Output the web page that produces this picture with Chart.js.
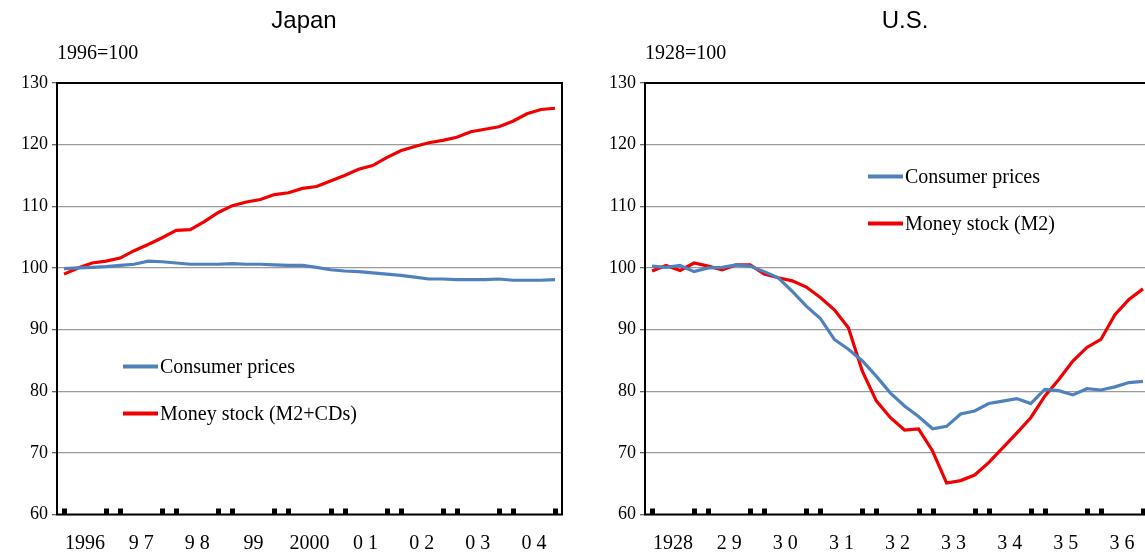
<!DOCTYPE html>
<html>
<head>
<meta charset="utf-8">
<script src="https://cdn.jsdelivr.net/npm/chart.js@4.4.0/dist/chart.umd.min.js"></script>
<style>
    html, body { margin: 0; padding: 0; background: #fff; overflow: hidden; }
    body { width: 1145px; height: 553px; position: relative; }
    canvas { position: absolute; top: 0; }
    #jpChart { left: 0; }
    #usChart { left: 580px; }
</style>
</head>
<body>
<canvas id="jpChart" width="575" height="553"></canvas>
<canvas id="usChart" width="585" height="553"></canvas>
<script>
// quarterly index values
const jpYears = ['1996', '9 7', '9 8', '99', '2000', '0 1', '0 2', '0 3', '0 4'];
const jpCpi = [99.9, 100.0, 100.1, 100.2, 100.4, 100.6, 101.1, 101.0, 100.8, 100.6, 100.6, 100.6,
    100.7, 100.6, 100.6, 100.5, 100.4, 100.4, 100.1, 99.7, 99.5, 99.4, 99.2, 99.0,
    98.8, 98.5, 98.2, 98.2, 98.1, 98.1, 98.1, 98.2, 98.0, 98.0, 98.0, 98.1];
const jpMoney = [99.0, 100.0, 100.8, 101.1, 101.6, 102.8, 103.8, 104.9, 106.1, 106.2, 107.5, 109.0,
    110.1, 110.7, 111.1, 111.9, 112.2, 112.9, 113.2, 114.1, 115.0, 116.0, 116.6, 117.9,
    119.0, 119.7, 120.3, 120.7, 121.2, 122.1, 122.5, 122.9, 123.8, 125.0, 125.7, 125.9];

const usYears = ['1928', '2 9', '3 0', '3 1', '3 2', '3 3', '3 4', '3 5', '3 6'];
const usCpi = [100.3, 100.1, 100.4, 99.4, 100.0, 100.1, 100.5, 100.3, 99.4, 98.4, 96.2, 93.8,
    91.8, 88.4, 86.8, 84.9, 82.4, 79.7, 77.6, 75.9, 73.9, 74.3, 76.3, 76.8,
    78.0, 78.4, 78.8, 78.0, 80.3, 80.1, 79.4, 80.4, 80.2, 80.7, 81.4, 81.6];
const usMoney = [99.5, 100.4, 99.6, 100.8, 100.3, 99.7, 100.5, 100.5, 99.0, 98.4, 97.9, 96.9,
    95.2, 93.2, 90.3, 83.2, 78.4, 75.7, 73.7, 73.9, 70.3, 65.1, 65.5, 66.4,
    68.4, 70.8, 73.2, 75.7, 79.2, 81.9, 84.9, 87.1, 88.4, 92.4, 94.9, 96.6];

const yMin = 60;
const yMax = 130;
const yStep = 10;

const serif = '"Liberation Serif", "Times New Roman", serif';
const blue = 'rgb(79, 129, 189)';
const red = 'rgb(240, 0, 0)';

function toPoints(values) {
    return values.map((v, i) => ({ x: i, y: v }));
}

// little black squares on the base line at each year boundary
function boundaryMarks(nYears) {
    let marks = [0];
    for (let k = 1; k < nYears; k++) {
        marks.push(k * 4 - 1, k * 4);
    }
    marks.push(nYears * 4 - 1);
    return marks;
}

const decor = {
    id: 'decor',
    afterDraw(chart, args, opts) {
        const { ctx, chartArea: a, scales: { x } } = chart;
        ctx.save();

        ctx.fillStyle = '#000';
        ctx.font = '24px "Liberation Sans", Arial, sans-serif';
        ctx.textAlign = 'center';
        ctx.textBaseline = 'alphabetic';
        ctx.fillText(opts.title, opts.titleX, 28);

        ctx.font = '20px ' + serif;
        ctx.textAlign = 'left';
        ctx.fillText(opts.unit, a.left, 59);

        ctx.strokeStyle = '#000';
        ctx.lineWidth = 2;
        ctx.strokeRect(a.left, a.top, a.width, a.height);

        boundaryMarks(opts.nYears).forEach((i) => {
            const px = x.getPixelForValue(i);
            ctx.fillRect(Math.round(px) - 2, a.bottom - 6, 5, 6);
        });

        chart.data.datasets.forEach((ds, k) => {
            const ly = a.top + opts.legendY + k * 47;
            const lx = a.left + opts.legendX;
            ctx.strokeStyle = ds.borderColor;
            ctx.lineWidth = 4;
            ctx.beginPath();
            ctx.moveTo(lx, ly);
            ctx.lineTo(lx + 35, ly);
            ctx.stroke();
            ctx.fillStyle = '#000';
            ctx.font = '20px ' + serif;
            ctx.textBaseline = 'middle';
            ctx.fillText(ds.label, lx + 37, ly + 1);
        });

        ctx.restore();
    }
};

function buildChart(id, cpi, money, moneyLabel, years, extra) {
    const ctx = document.getElementById(id).getContext('2d');
    return new Chart(ctx, {
        type: 'line',
        data: {
            datasets: [
                { label: 'Consumer prices', data: toPoints(cpi), borderColor: blue, borderWidth: 3.2 },
                { label: moneyLabel, data: toPoints(money), borderColor: red, borderWidth: 3.2 }
            ]
        },
        options: {
            responsive: false,
            devicePixelRatio: 1,
            animation: false,
            elements: { point: { radius: 0 }, line: { tension: 0 } },
            layout: { padding: { top: 83, right: extra.padRight, left: 0, bottom: 0 } },
            plugins: {
                legend: { display: false },
                tooltip: { enabled: false },
                decor: extra.decor
            },
            scales: {
                x: {
                    type: 'linear',
                    min: -0.5,
                    max: years.length * 4 - 0.5,
                    afterBuildTicks: (scale) => {
                        scale.ticks = years.map((_, k) => ({ value: k * 4 + 1.5 }));
                    },
                    afterFit: (scale) => { scale.height = 38.5; },
                    grid: { display: false, drawTicks: false },
                    border: { display: false },
                    ticks: {
                        autoSkip: false,
                        maxRotation: 0,
                        padding: 17,
                        color: '#000',
                        font: { family: serif, size: 20 },
                        callback: (value, index) => years[index]
                    }
                },
                y: {
                    min: yMin,
                    max: yMax,
                    afterFit: (scale) => { scale.width = extra.yWidth; },
                    grid: { color: '#9a9a9a', lineWidth: 1.3, tickLength: 5, tickColor: '#666' },
                    border: { display: false },
                    ticks: {
                        stepSize: yStep,
                        padding: 4,
                        color: '#000',
                        font: { family: serif, size: 18 }
                    }
                }
            }
        },
        plugins: [decor]
    });
}

buildChart('jpChart', jpCpi, jpMoney, 'Money stock (M2+CDs)', jpYears, {
    padRight: 13,
    yWidth: 57,
    decor: { title: 'Japan', titleX: 304, unit: '1996=100', nYears: jpYears.length, legendX: 66, legendY: 283.5 }
});

buildChart('usChart', usCpi, usMoney, 'Money stock (M2)', usYears, {
    padRight: 15,
    yWidth: 65,
    decor: { title: 'U.S.', titleX: 325, unit: '1928=100', nYears: usYears.length, legendX: 223, legendY: 93.5 }
});
</script>
</body>
</html>
